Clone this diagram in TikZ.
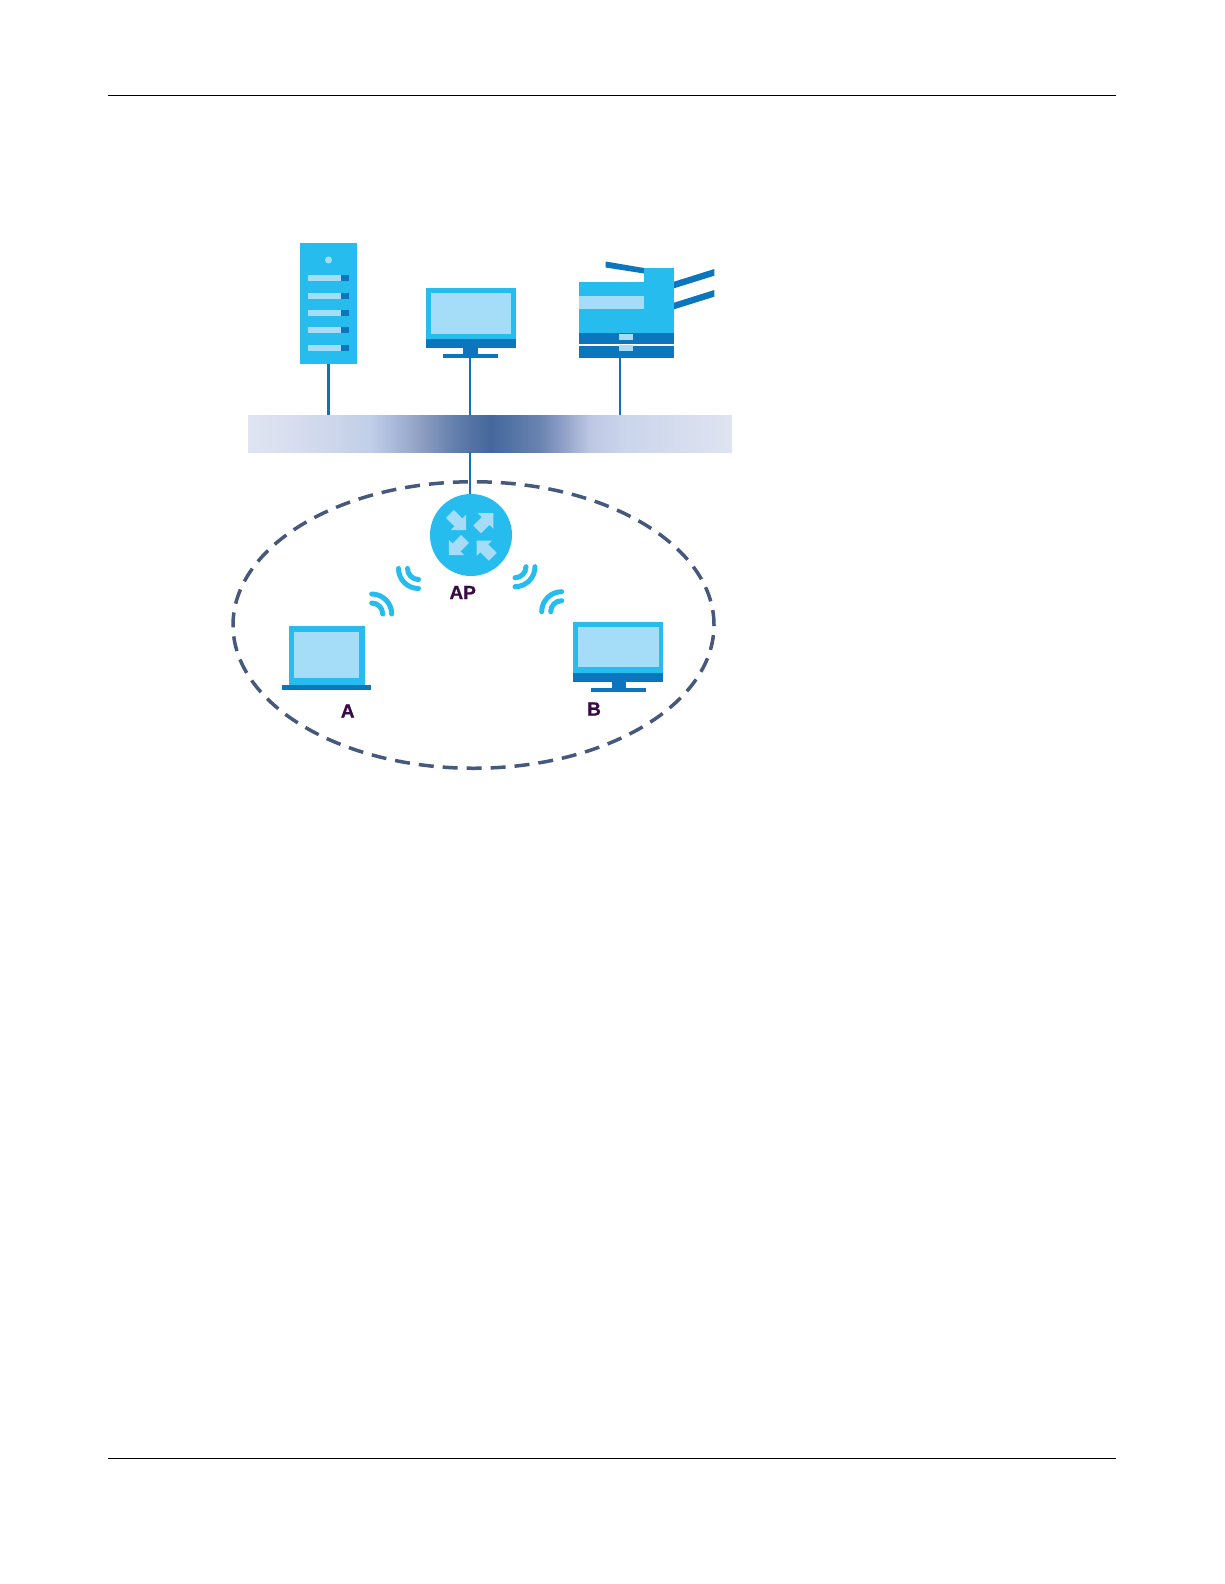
\documentclass[tikz,border=0pt]{standalone}
\usepackage{fontspec}
\usetikzlibrary{shapes.geometric}
\setmainfont[BoldFont={Liberation Sans Bold},BoldFeatures={FakeBold=1}]{Liberation Sans}
\definecolor{zcyan}{HTML}{27BCEE}
\definecolor{zlight}{HTML}{A5DDF8}
\definecolor{zdark}{HTML}{0B76BE}
\definecolor{zline}{HTML}{1671AE}
\definecolor{zdash}{HTML}{46597D}
\definecolor{ztext}{HTML}{3A0A47}
\pgfdeclarehorizontalshading{zband}{100bp}{
  rgb(0bp)=(0.875,0.894,0.945);
  rgb(25bp)=(0.875,0.894,0.945);
  rgb(28bp)=(0.860,0.880,0.940);
  rgb(37.6bp)=(0.760,0.810,0.910);
  rgb(39.7bp)=(0.680,0.740,0.870);
  rgb(43bp)=(0.550,0.620,0.760);
  rgb(46.2bp)=(0.390,0.500,0.680);
  rgb(50bp)=(0.267,0.404,0.608);
  rgb(53.1bp)=(0.350,0.470,0.660);
  rgb(55.2bp)=(0.420,0.520,0.700);
  rgb(57.2bp)=(0.540,0.610,0.770);
  rgb(60.3bp)=(0.740,0.780,0.890);
  rgb(63.4bp)=(0.790,0.830,0.920);
  rgb(75bp)=(0.875,0.894,0.945);
  rgb(100bp)=(0.875,0.894,0.945)}
\newcommand{\zwave}[4]{\draw[zwavestyle] ([shift={(#3:20)}]#1,#2) arc[start angle=#3,end angle=#4,radius=20];
  \draw[zwavestyle] ([shift={(#3:11)}]#1,#2) arc[start angle=#3,end angle=#4,radius=11];}
\newcommand{\zbox}[6][zcyan]{\node[zrect,fill=#1,minimum width=#5-#3,minimum height=#6-#4] (#2) at ({(#3+#5)/2},{-(#4+#6)/2}) {};}
\newcommand{\zarrow}[3]{\fill[zlight,shift={(#1,#2)},rotate=#3] (-11,-5.5) -- (1,-5.5) -- (1,-11) -- (12,0) -- (1,11) -- (1,5.5) -- (-11,5.5) -- cycle;}
\tikzset{
  x=1pt,y=1pt,
  zrect/.style={draw=none,inner sep=0pt,outer sep=0pt,rectangle},
  zwavestyle/.style={draw=zcyan,line width=5pt,line cap=round},
  zconn/.style={draw=zline,line width=2.4pt},
  zrule/.style={draw=black,line width=1.6pt},
  zlabel/.style={text=ztext,font=\fontsize{19}{19}\selectfont\bfseries,inner sep=0pt},
}
\begin{document}
\begin{tikzpicture}
\useasboundingbox (0,0) rectangle (1224,-1584);
\fill[white] (0,0) rectangle (1224,-1584);
% page rules
\coordinate (rtl) at (108,-95.5); \coordinate (rtr) at (1116,-95.5);
\coordinate (rbl) at (108,-1458.5); \coordinate (rbr) at (1116,-1458.5);
\draw[zrule] (rtl) -- (rtr);
\draw[zrule] (rbl) -- (rbr);
% backbone band
\node[zrect,shading=zband,minimum width=484,minimum height=37] (band) at (490,-433.5) {};
% connectors
\coordinate (srvdrop) at (328.5,-364);
\coordinate (pcdrop) at (470,-357);
\coordinate (prndrop) at (620,-358);
\draw[zconn] (srvdrop) -- (srvdrop |- band.north);
\draw[zconn] (pcdrop) -- (pcdrop |- band.north);
\draw[zconn] (prndrop) -- (prndrop |- band.north);
% dashed cell
\node[draw=zdash,line width=3.5pt,dash pattern=on 15pt off 9pt,ellipse,inner sep=0pt,minimum width=481,minimum height=286.5] (cell) at (473.5,-625) {};
% AP
\node[circle,fill=zcyan,minimum size=82,inner sep=0pt,outer sep=0pt] (ap) at (471,-535) {};
\coordinate (apdrop) at (470,-452);
\draw[zconn] (apdrop) -- (apdrop |- ap.north);
\zarrow{457.7}{-521.7}{-45}
\zarrow{485}{-521.7}{45}
\zarrow{457.3}{-546.7}{-135}
\zarrow{485}{-549}{135}
% server
\zbox{srv}{300}{243}{357}{364}
\fill[zlight] (328.5,-260) circle (3.5);
\foreach \yy in {278.3,295.7,313,330.3,347.7}{
  \fill[zlight] (308,-\yy+3) rectangle (341,-\yy-3);
  \fill[zdark] (341,-\yy+3) rectangle (349,-\yy-3);
}
% monitor
\zbox{mon}{425.7}{288.3}{516}{348}
\zbox[zlight]{monscr}{430.5}{293}{511}{333.5}
\zbox[zdark]{monbar}{425.7}{339}{516}{348}
\zbox[zdark]{monstand}{463}{348}{478}{356}
\zbox[zdark]{monfoot}{443}{354}{498}{358}
% printer
\fill[zdark] (605.7,-261.5) -- (644,-268) -- (644,-273.5) -- (605.7,-267.5) -- cycle;
\fill[zdark] (674,-281.7) -- (714.3,-269) -- (714.3,-275.7) -- (674,-288.3) -- cycle;
\fill[zdark] (674,-302.7) -- (714.3,-290) -- (714.3,-296.7) -- (674,-309.3) -- cycle;
\zbox{prn}{579.3}{282}{674}{335}
\zbox{prntop}{644}{268}{674}{283}
\zbox[zlight]{prnslot}{579.3}{296}{643.5}{309}
\zbox[zdark]{prnta}{579.3}{333}{674}{343.5}
\zbox[zdark]{prntb}{579.3}{345.7}{674}{357.7}
\zbox[zlight]{prnha}{619}{333.5}{633}{339.5}
\zbox[zlight]{prnhb}{619}{345}{633}{351}
% waves
\zwave{418.5}{-568.5}{180}{270}
\zwave{371.7}{-614}{90}{0}
\zwave{515}{-566.7}{0}{-90}
\zwave{561.7}{-611.7}{180}{90}
% laptop A
\zbox{lap}{289}{625.7}{364.7}{685}
\zbox[zlight]{lapscr}{294.3}{631.7}{359.3}{678.3}
\zbox[zdark]{lapbase}{281.7}{684.7}{371.3}{690.3}
% monitor B
\zbox{monb}{573.3}{622.3}{663.3}{681.7}
\zbox[zlight]{monbscr}{578.3}{627.3}{659}{667.3}
\zbox[zdark]{monbbar}{573.3}{673.3}{663.3}{681.7}
\zbox[zdark]{monbstand}{611.7}{681.7}{625.7}{690}
\zbox[zdark]{monbfoot}{590.7}{687.5}{646}{691.5}
% labels
\node[zlabel] (lab-ap) at (462.7,-592.5) {AP};
\node[zlabel] (lab-a) at (347.7,-711) {A};
\node[zlabel] (lab-b) at (594,-709) {B};
\end{tikzpicture}
\end{document}
